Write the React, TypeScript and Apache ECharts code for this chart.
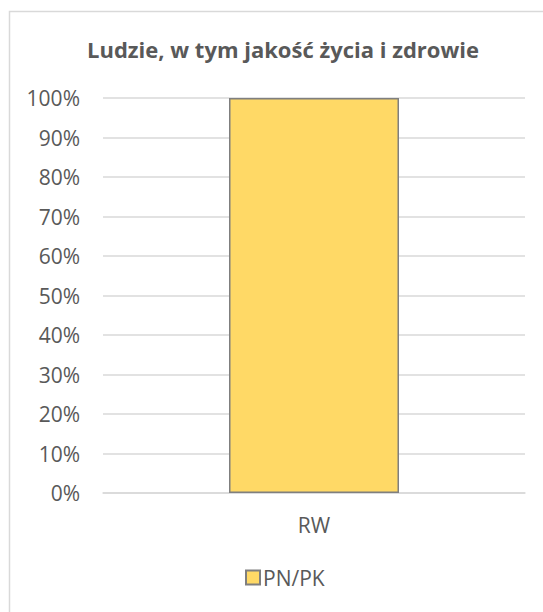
import React, { useEffect, useRef } from "react";
import * as echarts from "echarts";

const titleText = "Ludzie, w tym jakość życia i zdrowie";
const categories = ["RW"];
const seriesName = "PN/PK";
const pnpkValues = [100];

export default function App() {
  const ref = useRef<HTMLDivElement>(null);
  useEffect(() => {
    if (!ref.current) return;
    const chart = echarts.init(ref.current, undefined, { renderer: "svg" });
    const font = "'Open Sans', 'Noto Sans', sans-serif";
    chart.setOption({
      animation: false,
      backgroundColor: "#ffffff",
      graphic: [
        {
          type: "rect",
          shape: { x: 9.5, y: 11.5, width: 548, height: 700 },
          style: { fill: "none", stroke: "#d9d9d9", lineWidth: 1.5 },
          silent: true,
        },
      ],
      title: {
        text: titleText,
        left: 283,
        top: 38,
        textAlign: "center",
        padding: 0,
        textStyle: { fontFamily: font, fontSize: 22, fontWeight: "bold", color: "#595959" },
      },
      grid: { left: 103, right: 18, top: 98, bottom: 119, containLabel: false },
      xAxis: {
        type: "category",
        data: categories,
        axisLine: { show: true, lineStyle: { color: "#d9d9d9", width: 1.5 } },
        axisTick: { show: false },
        axisLabel: { fontFamily: font, fontSize: 21, color: "#595959", margin: 21 },
      },
      yAxis: {
        type: "value",
        min: 0,
        max: 100,
        interval: 10,
        axisLine: { show: false },
        axisTick: { show: false },
        axisLabel: { formatter: "{value}%", fontFamily: font, fontSize: 21, color: "#595959", margin: 23 },
        splitLine: { lineStyle: { color: "#d9d9d9", width: 1.5 } },
      },
      legend: {
        data: [seriesName],
        left: 245,
        top: 567,
        icon: "rect",
        itemWidth: 14,
        itemHeight: 14,
        itemGap: 10,
        padding: 0,
        textStyle: { fontFamily: font, fontSize: 21, color: "#595959", padding: [0, 0, 0, -2] },
      },
      series: [
        {
          name: seriesName,
          type: "bar",
          data: pnpkValues,
          barWidth: 170,
          itemStyle: { color: "#FFD966", borderColor: "#7F7F7F", borderWidth: 1.5 },
        },
      ],
    });
    return () => chart.dispose();
  }, []);
  return (
    <div
      ref={ref}
      style={{ position: "fixed", left: 0, top: 0, width: 543, height: 612 }}
    />
  );
}
